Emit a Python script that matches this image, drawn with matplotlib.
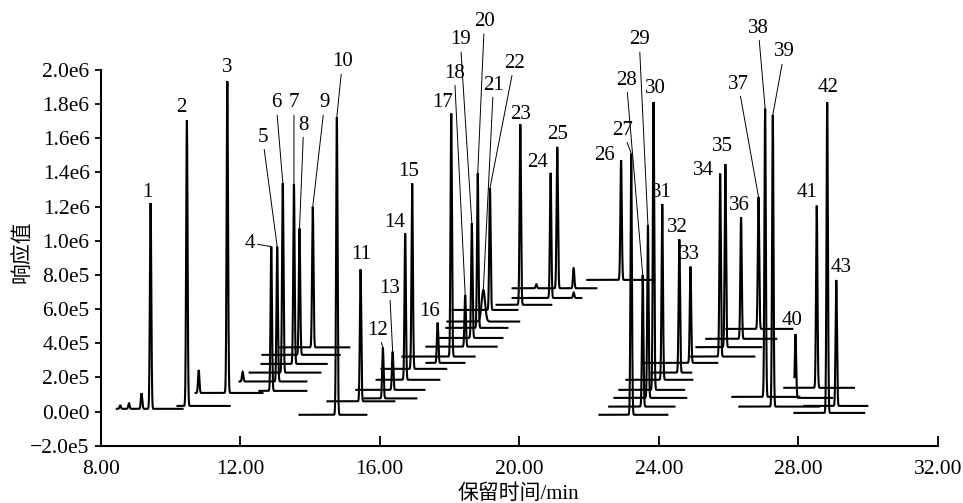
import numpy as np
import matplotlib.pyplot as plt

# ── Fonts ─────────────────────────────────────────────────────────────────────
plt.rcParams['font.family'] = ['Liberation Serif', 'Noto Sans CJK SC']
plt.rcParams['axes.unicode_minus'] = True

# ── Data: one trace per compound (retention time in min, response in counts) ─
PEAK_NO  = list(range(1, 44))
PEAK_RT  = [9.43, 10.47, 11.63, 12.89, 13.06, 13.22, 13.54, 13.70, 14.08, 14.77,
            15.45, 16.09, 16.37, 16.73, 16.93, 17.66, 18.05, 18.45, 18.64, 18.81,
            18.97, 19.16, 20.03, 20.90, 21.09, 22.92, 23.21, 23.54, 23.69, 23.85,
            24.10, 24.59, 24.91, 25.76, 25.91, 26.36, 26.86, 27.05, 27.27, 27.92,
            28.53, 28.83, 29.09]
PEAK_TOP = [1.223e6, 1.707e6, 1.937e6, 9.66e5, 9.66e5, 1.340e6, 1.333e6, 1.073e6, 1.200e6, 1.727e6,
            8.33e5, 3.75e5, 3.51e5, 1.044e6, 1.337e6, 5.21e5, 1.747e6, 6.83e5, 1.103e6, 1.395e6,
            7.12e5, 1.308e6, 1.684e6, 1.399e6, 1.551e6, 1.473e6, 1.512e6, 8.00e5, 1.093e6, 1.814e6,
            1.216e6, 1.009e6, 8.49e5, 1.395e6, 1.450e6, 1.138e6, 1.258e6, 1.776e6, 1.737e6, 4.53e5,
            1.206e6, 1.814e6, 7.71e5]
TRACE_BASE = [1.6e4, 3.3e4, 1.09e5, 1.21e5, 1.76e5, 2.28e5, 2.79e5, 3.32e5, 3.76e5, -1.9e4,
              6.0e4, 7.7e4, 1.27e5, 1.86e5, 2.50e5, 2.85e5, 3.22e5, 3.80e5, 4.31e5, 4.90e5,
              5.27e5, 5.95e5, 6.25e5, 6.65e5, 7.22e5, 7.71e5, -1.9e4, 2.9e4, 8.0e4, 1.27e5,
              1.86e5, 2.28e5, 2.85e5, 3.22e5, 3.77e5, 4.26e5, 4.84e5, 8.6e4, 2.9e4, 8.0e4,
              1.39e5, -8e3, 3.3e4]
TRACE_START = [8.46, 10.20, 10.72, 12.55, 11.98, 12.27, 12.61, 12.64, 13.13, 13.70,
               14.50, 15.56, 15.33, 15.91, 16.05, 17.34, 16.65, 17.34, 17.66, 17.91,
               17.94, 18.09, 19.35, 19.81, 19.81, 21.95, 22.30, 22.58, 22.73, 22.87,
               23.07, 23.79, 23.59, 24.87, 25.08, 25.36, 25.94, 26.11, 26.31, 27.89,
               27.60, 27.89, 28.17]
TRACE_END = [10.35, 11.70, 12.64, 13.90, 13.90, 14.30, 14.48, 14.85, 15.13, 15.62,
             16.42, 17.05, 17.28, 17.71, 17.91, 18.43, 18.72, 19.35, 19.52, 19.66,
             20.00, 19.95, 20.92, 21.78, 22.21, 23.87, 24.25, 24.45, 24.79, 24.73,
             24.96, 24.93, 25.68, 26.74, 26.94, 27.37, 27.83, 28.03, 28.60, 28.97,
             29.60, 29.89, 29.98]

# small unlabelled peaks: trace number, retention time, apex
MINOR_TRACE = [1, 1, 1, 3, 5, 24, 25, 25]
MINOR_RT    = [8.56, 8.81, 9.17, 10.81, 12.07, 21.56, 20.49, 21.56]
MINOR_TOP   = [3.6e4, 4.8e4, 1.07e5, 2.43e5, 2.33e5, 6.97e5, 7.45e5, 8.39e5]

WIDE_PEAKS = {21: 0.05}     # broad, poorly shaped peak

X_TICKS = [8, 12, 16, 20, 24, 28, 32]
X_TICK_LABELS = ["8.00", "12.00", "16.00", "20.00", "24.00", "28.00", "32.00"]
Y_TICKS = [2.0e6, 1.8e6, 1.6e6, 1.4e6, 1.2e6, 1.0e6, 8.0e5, 6.0e5, 4.0e5, 2.0e5, 0.0, -2.0e5]
Y_TICK_LABELS = ["2.0e6", "1.8e6", "1.6e6", "1.4e6", "1.2e6", "1.0e6", "8.0e5",
                 "6.0e5", "4.0e5", "2.0e5", "0.0e0", "\u22122.0e5"]

# ── Peak label layout (label centre in data coords, leader line or not) ───────
LABEL_X = [9.35, 10.32, 11.64, 12.27, 12.64, 13.03, 13.54, 13.82, 14.42, 14.93,
           15.47, 15.94, 16.28, 16.42, 16.83, 17.43, 17.79, 18.14, 18.31, 19.00,
           19.26, 19.86, 20.05, 20.52, 21.09, 22.44, 22.96, 23.07, 23.44, 23.89,
           24.07, 24.54, 24.88, 25.28, 25.82, 26.31, 26.28, 26.85, 27.60, 27.83,
           28.26, 28.86, 29.22]
LABEL_Y = [1.28e6, 1.778e6, 2.012e6, 9.87e5, 1.607e6, 1.807e6, 1.807e6, 1.678e6, 1.807e6, 2.047e6,
           9.17e5, 4.77e5, 7.23e5, 1.11e6, 1.405e6, 5.83e5, 1.807e6, 1.982e6, 2.176e6, 2.283e6,
           1.912e6, 2.04e6, 1.737e6, 1.456e6, 1.62e6, 1.502e6, 1.648e6, 1.941e6, 2.176e6, 1.889e6,
           1.28e6, 1.075e6, 9.17e5, 1.41e6, 1.55e6, 1.209e6, 1.918e6, 2.246e6, 2.106e6, 5.36e5,
           1.28e6, 1.895e6, 8.46e5]
LEADER = {4, 5, 6, 7, 8, 9, 10, 12, 13, 18, 19, 20, 21, 22, 27, 28, 29, 37, 38, 39}

# ── Figure ────────────────────────────────────────────────────────────────────
fig = plt.figure(figsize=(9.63, 5.03), dpi=100)
ax = fig.add_axes([0.1046, 0.1139, 0.8692, 0.7469])

for i, n in enumerate(PEAK_NO):
    x = np.arange(TRACE_START[i], TRACE_END[i], 0.003)
    sig = WIDE_PEAKS.get(n, 0.02)
    base = TRACE_BASE[i]
    y = base + (PEAK_TOP[i] - base) * np.exp(-0.5 * ((x - PEAK_RT[i]) / sig) ** 2)
    for t, rt, top in zip(MINOR_TRACE, MINOR_RT, MINOR_TOP):
        if t == n:
            y += (top - base) * np.exp(-0.5 * ((x - rt) / 0.02) ** 2)
    ax.plot(x, y, color="black", lw=1.5, solid_joinstyle="miter")

for i, n in enumerate(PEAK_NO):
    if n in LEADER:
        ax.annotate(str(n), xy=(PEAK_RT[i], PEAK_TOP[i]), xytext=(LABEL_X[i], LABEL_Y[i]),
                    ha="center", va="center", fontsize=15, annotation_clip=False,
                    arrowprops=dict(arrowstyle="-", lw=0.7, color="black",
                                    shrinkA=0, shrinkB=0))
    else:
        ax.text(LABEL_X[i], LABEL_Y[i], str(n), ha="center", va="center",
                fontsize=15, clip_on=False)

ax.set_xlim(8, 32)
ax.set_ylim(-2.0e5, 2.0e6)
ax.set_xticks(X_TICKS)
ax.set_xticklabels(X_TICK_LABELS)
ax.set_yticks(Y_TICKS)
ax.set_yticklabels(Y_TICK_LABELS)
ax.tick_params(axis="x", direction="in", length=7, width=1.3, pad=10, labelsize=15.5)
ax.tick_params(axis="y", direction="out", length=4.5, width=1.3, pad=3.5, labelsize=15.5)

for side in ("top", "right"):
    ax.spines[side].set_visible(False)
for side in ("left", "bottom"):
    ax.spines[side].set_linewidth(1.5)

ax.set_ylabel("响应值", fontsize=15)
ax.yaxis.set_label_coords(-0.0934, 0.517)
ax.yaxis.label.set_va("center")
ax.set_xlabel("保留时间/min", fontsize=15)
ax.xaxis.set_label_coords(0.4986, -0.13)
ax.xaxis.label.set_va("center")

fig.savefig("out.png", dpi=100)
